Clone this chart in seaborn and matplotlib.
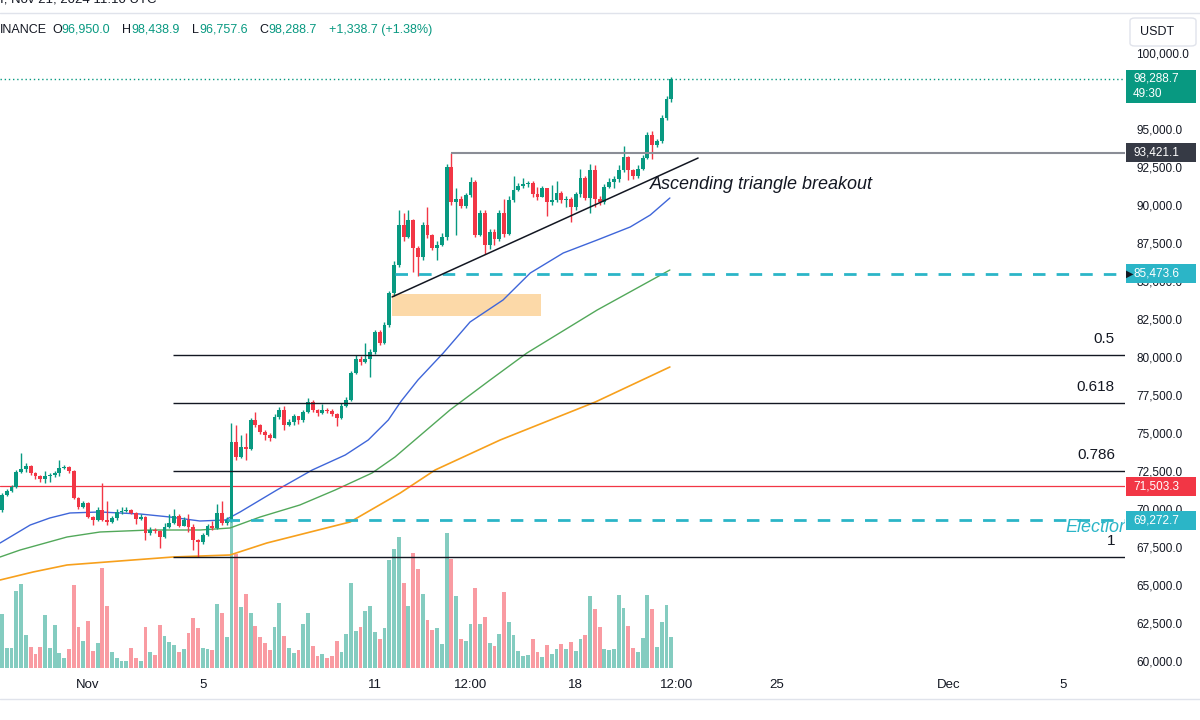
import numpy as np
import pandas as pd
import seaborn as sns
import matplotlib.pyplot as plt
import matplotlib.transforms as mtransforms
from matplotlib.patches import Rectangle, FancyBboxPatch
from matplotlib.lines import Line2D
from matplotlib.ticker import FuncFormatter

# BTCUSDT 4h candles, 29 Oct 00:00 -> 21 Nov 08:00 (x = candle number)
opens = [69930, 70920, 71200, 71450, 72430, 72600, 72800, 72350, 72150, 72000,
         72150, 72250, 72350, 72700, 72750, 72500, 70720, 70150, 70400, 69480,
         69250, 69950, 69300, 69150, 69400, 69800, 69900, 69950, 69750, 69350,
         69500, 68450, 68650, 68550, 68150, 68800, 69050, 69550, 68900, 69300,
         68800, 67950, 67800, 68300, 68900, 68750, 69750, 69050, 69300, 74400,
         73420, 74100, 73950, 75860, 75550, 75070, 74850, 74700, 76050, 76500,
         75550, 75700, 76100, 75850, 76400, 77050, 76500, 76300, 76500, 76450,
         76250, 76000, 76750, 77200, 78950, 79900, 79700, 79900, 80300, 81650,
         80950, 82100, 84200, 86050, 88680, 87900, 89000, 87150, 86600, 88700,
         88000, 87200, 87400, 87900, 92500, 90200, 90400, 89950, 90650, 91500,
         88050, 89500, 87400, 88200, 87750, 89500, 88100, 90350, 91000, 91250,
         91400, 91450, 90700, 90550, 91100, 90200, 90300, 90800, 90300, 90400,
         89850, 90700, 91750, 90450, 92300, 90400, 90200, 91200, 91500, 91700,
         92300, 93150, 92300, 91900, 92400, 93100, 94600, 93950, 94200, 95700,
         96950]
highs = [71050, 71300, 71550, 72550, 73680, 73000, 72900, 72450, 72250, 72500,
         72350, 72500, 73250, 72900, 72850, 72550, 70800, 70550, 70450, 69550,
         70100, 71700, 70500, 69550, 70000, 70150, 70100, 70000, 69800, 69650,
         69550, 68800, 68750, 68600, 69100, 69700, 70000, 69650, 69450, 69650,
         69000, 68050, 68400, 69000, 69200, 70350, 70500, 69500, 75650, 75500,
         74900, 75000, 76000, 76400, 75600, 75200, 75000, 76250, 76700, 76800,
         75900, 76250, 76150, 76500, 77300, 77150, 76600, 76900, 76650, 76550,
         76300, 76950, 77350, 79100, 80100, 80050, 80900, 80500, 81800, 81750,
         82300, 84350, 86300, 89670, 89500, 89650, 89100, 87300, 88900, 89900,
         88100, 87600, 88150, 92700, 93421.1, 91100, 90600, 90800, 91850, 91650,
         89700, 89650, 88400, 88450, 89700, 90400, 90600, 91900, 91450, 91800,
         91600, 91600, 91200, 91250, 91150, 91300, 91600, 90900, 90600, 90500,
         90850, 92350, 91900, 92700, 92600, 90600, 91400, 91750, 91900, 92600,
         93900, 93200, 92400, 92600, 93300, 94800, 94900, 94350, 95900, 97200,
         98438.9]
lows = [69800, 70850, 71100, 71350, 72350, 72450, 72250, 72000, 71800, 71700,
        71750, 72100, 72200, 72600, 72350, 70650, 70000, 70050, 69400, 68950,
        69200, 69200, 68950, 69100, 69300, 69700, 69800, 69650, 69000, 69250,
        67950, 68300, 68400, 67450, 68100, 68750, 69000, 68800, 68850, 68500,
        67300, 66835, 67700, 68200, 68600, 68700, 68950, 68950, 69150, 73200,
        73350, 73200, 73900, 75400, 74950, 74550, 74450, 74650, 75950, 75200,
        75450, 75550, 75600, 75750, 76300, 76400, 76100, 76250, 76300, 76100,
        75450, 75900, 76700, 77100, 78900, 79500, 79600, 78700, 80200, 80800,
        80850, 82000, 84000, 85900, 87600, 87800, 85600, 85300, 86400, 87800,
        87050, 86400, 87300, 87700, 90000, 88000, 89800, 89800, 90500, 87900,
        87950, 86750, 87100, 87400, 87600, 87900, 88000, 90200, 90900, 91100,
        91200, 90500, 90300, 90500, 89300, 90000, 90200, 90100, 89900, 88850,
        89700, 90500, 90300, 89500, 89900, 90000, 90050, 91100, 91100, 91500,
        92200, 91650, 91700, 91800, 92300, 93000, 93000, 93800, 94100, 95600,
        96757.6]
closes = [70920, 71200, 71450, 72430, 72600, 72800, 72350, 72150, 72000, 72150,
          72250, 72350, 72700, 72750, 72500, 70720, 70150, 70400, 69480, 69250,
          69950, 69300, 69150, 69400, 69800, 69900, 69950, 69750, 69350, 69500,
          68450, 68650, 68550, 68150, 68800, 69050, 69550, 68900, 69300, 68800,
          67950, 67800, 68300, 68900, 68750, 69750, 69050, 69300, 74400, 73420,
          74100, 73950, 75860, 75550, 75070, 74850, 74700, 76050, 76500, 75550,
          75700, 76100, 75850, 76400, 77050, 76500, 76300, 76500, 76450, 76250,
          76000, 76750, 77200, 78950, 79900, 79700, 79900, 80300, 81650, 80950,
          82100, 84200, 86050, 88680, 87900, 89000, 87150, 86600, 88700, 88000,
          87200, 87400, 87900, 92500, 90200, 90400, 89950, 90650, 91500, 88050,
          89500, 87400, 88200, 87750, 89500, 88100, 90350, 91000, 91250, 91400,
          91450, 90700, 90550, 91100, 90200, 90300, 90800, 90300, 90400, 89850,
          90700, 91750, 90450, 92300, 90400, 90200, 91200, 91500, 91700, 92300,
          93150, 92300, 91900, 92400, 93100, 94600, 93950, 94200, 95700, 96950,
          98288.7]
volumes = [53.6, 20.5, 20.5, 76.8, 84.3, 33.4, 21.5, 14.0, 21.5, 52.9,
           19.8, 42.7, 15.0, 9.6, 19.1, 82.6, 41.0, 27.0, 47.1, 16.7,
           24.9, 100.3, 62.1, 15.7, 9.9, 7.2, 6.8, 19.8, 9.6, 6.8,
           40.6, 15.7, 13.3, 43.3, 32.4, 25.6, 23.5, 16.4, 19.1, 35.5,
           50.5, 39.6, 19.8, 18.8, 17.7, 64.2, 54.6, 30.7, 148.0, 114.3,
           60.8, 74.4, 54.6, 41.6, 31.4, 24.9, 17.7, 40.6, 64.8, 32.4,
           20.1, 15.0, 17.7, 44.0, 55.3, 22.5, 12.3, 13.7, 10.2, 11.9,
           27.0, 15.7, 34.1, 84.6, 37.5, 41.0, 57.0, 61.8, 35.8, 29.0,
           39.9, 108.2, 119.5, 131.4, 84.6, 62.1, 114.7, 99.0, 74.1, 47.8,
           38.2, 40.3, 24.2, 135.5, 109.2, 72.4, 28.7, 27.0, 43.7, 80.2,
           44.4, 50.9, 25.3, 22.5, 34.1, 76.1, 45.7, 33.4, 16.7, 11.9,
           13.0, 28.7, 16.4, 10.9, 22.9, 14.3, 19.1, 23.9, 19.1, 26.3,
           17.4, 29.0, 33.1, 72.4, 59.4, 41.0, 18.8, 18.4, 19.1, 72.7,
           59.7, 42.0, 19.8, 15.7, 30.0, 72.7, 59.4, 20.8, 46.4, 63.5,
           31.1]

# moving averages (candle number, price)
ma_blue_x = [-0.4, 5.9, 10.0, 14.2, 20.5, 28.9, 35.1, 41.4, 46.7, 49.8, 57.5, 64.9, 71.8,
             76.6, 80.8, 83.5, 87.0, 92.3, 97.9, 104.8, 110.5, 117.4, 124.5, 131.4, 135.6, 139.7]
ma_blue_y = [67763, 68947, 69408, 69737, 69803, 69671, 69474, 69210, 69276, 69803, 71250, 72566, 73553,
             74539, 75855, 77100, 78487, 80263, 82303, 83750, 85526, 86842, 87697, 88553, 89342, 90461]
ma_green_x = [-0.4, 3.8, 13.6, 20.5, 31.0, 41.4, 47.7, 54.0, 62.3, 69.7, 77.4, 82.2, 93.7,
              102.1, 109.8, 124.5, 139.7]
ma_green_y = [66842, 67303, 68158, 68487, 68618, 68618, 68750, 69474, 70263, 71250, 72368, 73421, 76513,
              78487, 80263, 83092, 85724]
ma_orange_x = [-0.4, 6.5, 13.6, 27.4, 35.8, 47.7, 55.4, 72.8, 83.3, 90.6, 104.2, 124.1, 139.7]
ma_orange_y = [65329, 65855, 66316, 66645, 66842, 66974, 67763, 69145, 71053, 72566, 74539, 77039, 79342]

# drawings
last_price = 98288.7
resistance = 93421.1
support_level = 85473.6
red_level = 71503.3
election_level = 69272.7
fib_high, fib_low = 93421.1, 66835.0
fib_ratios = [0.5, 0.618, 0.786, 1]
trend_x = [81.6, 145.6]
trend_y = [83950, 93090]
zone_x = [81.6, 112.8]
zone_y = [82697, 84145]

tick_pos = [18, 42, 78, 98, 120, 141, 162, 198, 222]
tick_labels = ['Nov', '5', '11', '12:00', '18', '12:00', '25', 'Dec', '5']
# 97,500.0 sits fully under the last-price label, so it is left out
price_ticks = [p for p in np.arange(60000, 100001, 2500) if p != 97500]

UP, DOWN = '#089981', '#f23645'
VOL_UP, VOL_DOWN = '#84ccc0', '#f99ba2'
CYAN = '#2bb5c7'
TXT = '#131722'

sns.set_theme(style='white')
plt.rcParams['font.family'] = ['Liberation Sans', 'DejaVu Sans']

fig = plt.figure(figsize=(12, 7.2), dpi=100)
fig.patch.set_facecolor('white')
rect = [0, 48 / 720, 1125 / 1200, 660 / 720]
ax_vol = fig.add_axes(rect)
ax = fig.add_axes(rect)
ax.patch.set_visible(False)
xlim = (-0.42, 234.9)


def fx(px):
    return px / 1200


def fy(py):
    return 1 - py / 720


# volume
o = np.array(opens)
c = np.array(closes)
up = c >= o
n = np.arange(len(closes))
vol_df = pd.DataFrame({'i': n, 'vol': volumes, 'dir': np.where(up, 'up', 'down')})
sns.barplot(data=vol_df, x='i', y='vol', hue='dir', palette={'up': VOL_UP, 'down': VOL_DOWN},
            dodge=False, native_scale=True, width=0.8, saturation=1, errorbar=None,
            legend=False, linewidth=0, ax=ax_vol)
ax_vol.set_xlim(xlim)
ax_vol.set_ylim(-4, 656)
ax_vol.axis('off')

# candles
col = np.where(up, UP, DOWN)
ax.vlines(n, lows, highs, colors=col, lw=1, zorder=3)
ax.bar(n, np.maximum(np.abs(c - o), 60), bottom=np.minimum(o, c), width=0.8,
       color=col, linewidth=0, zorder=3)

# moving averages
sns.lineplot(x=ma_blue_x, y=ma_blue_y, color='#3f66d9', lw=1, ax=ax, zorder=2)
sns.lineplot(x=ma_green_x, y=ma_green_y, color='#52a85a', lw=1, ax=ax, zorder=2)
sns.lineplot(x=ma_orange_x, y=ma_orange_y, color='#f7a01c', lw=1.2, ax=ax, zorder=2)

# drawings
ax.axhline(last_price, color=UP, lw=1, ls=(0, (1, 2)), zorder=2)
ax.axhline(red_level, color=DOWN, lw=0.9, zorder=2)
ax.hlines(resistance, 94, 240, color='#8a8d96', lw=1.5, zorder=4)
fib_prices = [fib_high - r * (fib_high - fib_low) for r in fib_ratios]
ax.hlines(fib_prices, 35.8, 240, color=TXT, lw=1, zorder=4)
ax.hlines(support_level, 82.2, 240, color=CYAN, lw=2, ls=(0, (4.5, 4)), zorder=4)
ax.hlines(election_level, 47, 240, color=CYAN, lw=2, ls=(0, (4.5, 4)), zorder=4)
ax.plot(trend_x, trend_y, color=TXT, lw=1.1, zorder=4)
ax.add_patch(Rectangle((zone_x[0], zone_y[0]), zone_x[1] - zone_x[0], zone_y[1] - zone_y[0],
                       fc='#fcd9a8', ec='none', zorder=1))

ax.text(135.6, 91316, 'Ascending triangle breakout', style='italic', fontsize=13,
        color=TXT, ha='left', va='center', zorder=6)
ax.text(222.4, 68815, 'Election', style='italic', fontsize=13, color=CYAN,
        ha='left', va='center', clip_on=True, zorder=6)
lab_tr = mtransforms.offset_copy(ax.transData, fig=fig, y=16, units='dots')
for r, p in zip(fib_ratios, fib_prices):
    ax.text(232.8, p, f'{r:g}', transform=lab_tr, fontsize=11, color=TXT,
            ha='right', va='center')

# axes
ax.set_xlim(xlim)
ax.set_ylim(59276, 102697)
for a in (ax, ax_vol):
    for s in a.spines.values():
        s.set_visible(False)
ax.grid(False)
ax.yaxis.tick_right()
ax.set_yticks(price_ticks)
ax.yaxis.set_major_formatter(FuncFormatter(lambda v, _: f'{v:,.1f}'))
ax.tick_params(axis='y', length=0, pad=8, labelsize=8.5, colors=TXT)
ax.set_xticks(tick_pos, tick_labels)
ax.tick_params(axis='x', length=0, pad=5, labelsize=9.5, colors=TXT)
ax.set_xlabel('')
ax.set_ylabel('')

# price labels on the scale
bt = mtransforms.blended_transform_factory(ax.transAxes, ax.transData)
px = 65.79  # price per pixel
x0, x1 = 1126 / 1125, 1196 / 1125
ax.add_patch(Rectangle((x0, last_price - 24 * px), x1 - x0, 33 * px, transform=bt,
                       fc=UP, ec='none', clip_on=False, zorder=10))
ax.text(1133 / 1125, last_price + 1 * px, f'{last_price:,.1f}', transform=bt, color='white',
        fontsize=8.5, va='center', ha='left', zorder=11, clip_on=False)
ax.text(1133 / 1125, last_price - 15 * px, '49:30', transform=bt, color='white',
        fontsize=8.5, va='center', ha='left', zorder=11, clip_on=False)
for price, colr in [(resistance, '#363a45'), (support_level, CYAN),
                    (red_level, DOWN), (election_level, CYAN)]:
    ax.add_patch(Rectangle((x0, price - 9.5 * px), x1 - x0, 19 * px, transform=bt,
                           fc=colr, ec='none', clip_on=False, zorder=10))
    ax.text(1133 / 1125, price, f'{price:,.1f}', transform=bt, color='white',
            fontsize=8.5, va='center', ha='left', zorder=11, clip_on=False)
ax.text(1125.5 / 1125, support_level, '\u25B6', transform=bt, color=TXT, fontsize=7,
        va='center', ha='left', zorder=12, clip_on=False, family=['DejaVu Sans'])

# header / frame
fig.text(0, fy(0), 'I, Nov 21, 2024 11:10 UTC', fontsize=9.5, color=TXT, va='center')
fig.add_artist(Line2D([0, 1], [fy(12.5)] * 2, color='#e0e3eb', lw=1))
fig.add_artist(Line2D([0, 1], [fy(699)] * 2, color='#e0e3eb', lw=1))
head = [(0, 'INANCE', TXT), (52, 'O', TXT), (61, '96,950.0', UP), (122, 'H', TXT),
        (131, '98,438.9', UP), (192, 'L', TXT), (199, '96,757.6', UP), (259, 'C', TXT),
        (268, '98,288.7', UP), (329, '+1,338.7 (+1.38%)', UP)]
for hx, s, colr in head:
    fig.text(fx(hx), fy(30), s, fontsize=9, color=colr, va='center', ha='left')
fig.add_artist(FancyBboxPatch((fx(1130), fy(46)), 66 / 1200, 28 / 720,
                              boxstyle='round,pad=0,rounding_size=0.004',
                              transform=fig.transFigure, fc='white', ec='#e0e3eb', lw=1))
fig.text(fx(1140), fy(32), 'USDT', fontsize=9, color=TXT, va='center', ha='left')

fig.savefig('out.png', dpi=100)
